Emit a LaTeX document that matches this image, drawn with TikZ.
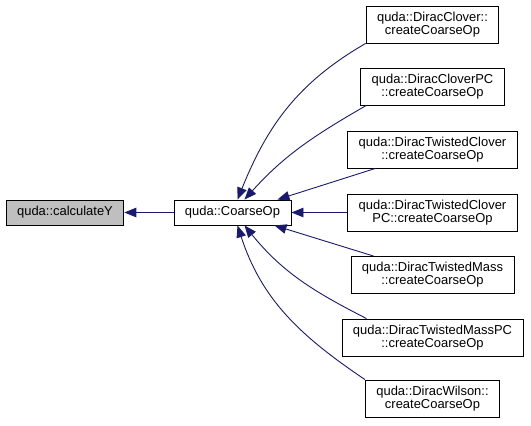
\documentclass[tikz,border=0pt]{standalone}
\usepackage{fontspec}
\setmainfont{Liberation Sans}
\usetikzlibrary{arrows.meta}
\definecolor{navy}{HTML}{191970}
\definecolor{shade}{HTML}{BFBFBF}
\tikzset{
  box/.style={draw=black,line width=0.9bp,fill=white,align=center,inner xsep=11bp,inner ysep=6bp,minimum height=25bp,font=\fontsize{13}{13}\selectfont},
  edge/.style={draw=navy,line width=0.9bp,-{Triangle[length=12bp,width=9.5bp]}}
}

\begin{document}
\begin{tikzpicture}[x=1bp,y=1bp]
\useasboundingbox (0,0) rectangle (531,425);
% left part
\node[box,fill=shade] (calcy) at (65,212.5) {quda::calculateY};
\node[box] (coarse) at (232.5,212.5) {quda::CoarseOp};
% callers
\node[box] (clover) at (432.5,400.5) {quda::DiracClover::\\createCoarseOp};
\node[box] (cloverpc) at (432.5,338.5) {quda::DiracCloverPC\\::createCoarseOp};
\node[box] (twclover) at (432.5,275.5) {quda::DiracTwistedClover\\::createCoarseOp};
\node[box] (twcloverpc) at (432.5,212.5) {quda::DiracTwistedClover\\PC::createCoarseOp};
\node[box] (twmass) at (432.5,150) {quda::DiracTwistedMass\\::createCoarseOp};
\node[box] (twmasspc) at (432.5,87.5) {quda::DiracTwistedMassPC\\::createCoarseOp};
\node[box] (wilson) at (432.5,26.5) {quda::DiracWilson::\\createCoarseOp};
% edges
\draw[edge] (coarse.west) -- (calcy.east);
\draw[edge] (clover.south west) to[out=210,in=68] ([xshift=5bp]coarse.north);
\draw[edge] ([xshift=6bp]cloverpc.south west) to[out=210,in=48] ([xshift=12bp]coarse.north);
\draw[edge] ([xshift=28bp]twclover.south west) -- ([xshift=-14bp]coarse.north east);
\draw[edge] (twcloverpc.west) -- (coarse.east);
\draw[edge] ([xshift=23bp]twmass.north west) -- ([xshift=-17bp]coarse.south east);
\draw[edge] ([xshift=25bp]twmasspc.north west) to[out=153,in=309] ([xshift=12bp]coarse.south);
\draw[edge] (wilson.north west) to[out=146,in=288] ([xshift=5bp]coarse.south);
\end{tikzpicture}
\end{document}
